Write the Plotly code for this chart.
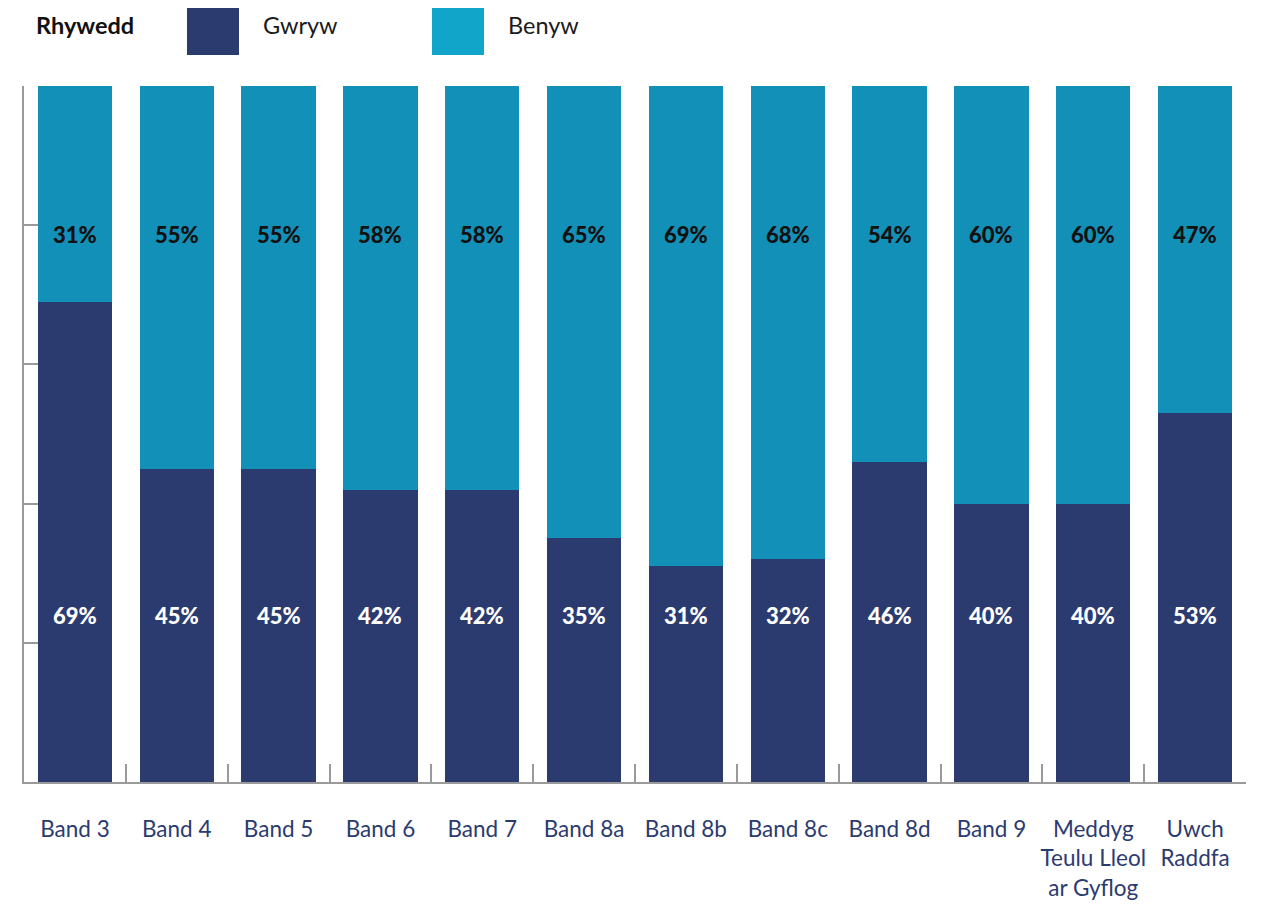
import plotly.graph_objects as go

categories = ["Band 3", "Band 4", "Band 5", "Band 6", "Band 7", "Band 8a", "Band 8b",
              "Band 8c", "Band 8d", "Band 9", "Meddyg<br>Teulu Lleol<br>ar Gyflog", "Uwch<br>Raddfa"]
gwryw = [69, 45, 45, 42, 42, 35, 31, 32, 46, 40, 40, 53]
benyw = [31, 55, 55, 58, 58, 65, 69, 68, 54, 60, 60, 47]
legend_title = "Rhywedd"
series_names = ["Gwryw", "Benyw"]

MALE = "#2C3B6F"
FEMALE = "#1390B8"
FEMALE_LEG = "#12A5CA"
FONT = "Lato"

fig = go.Figure()
fig.add_trace(go.Bar(x=categories, y=gwryw, name=series_names[0], marker_color=MALE,
                     marker_line_width=0, showlegend=False, hoverinfo="skip"))
fig.add_trace(go.Bar(x=categories, y=benyw, name=series_names[1], marker_color=FEMALE,
                     marker_line_width=0, showlegend=False, hoverinfo="skip"))

# data labels at fixed heights like the reference
for c, m, f in zip(categories, gwryw, benyw):
    fig.add_annotation(x=c, y=23.9, text=f"{m}%", showarrow=False,
                       font=dict(family=FONT, size=22, color="white", weight=900))
    fig.add_annotation(x=c, y=78.6, text=f"{f}%", showarrow=False,
                       font=dict(family=FONT, size=22, color="#111111", weight=900))

W, H = 1262, 909
OFF = 8  # page offset of the figure
L, R, T, B = 16, 24, 78, 135
pw, ph = W - L - R, H - T - B
def px(xp):
    return (xp - OFF - L) / pw
def py(yp):
    return (H - B - (yp - OFF)) / ph

# legend drawn manually
fig.add_annotation(xref="paper", yref="paper", x=px(34), y=py(25), xanchor="left", yanchor="middle",
                   text=legend_title, showarrow=False,
                   font=dict(family=FONT, size=23.5, color="#111111", weight=700))
sw = [(187, 239, MALE, series_names[0], 261), (432, 484, FEMALE_LEG, series_names[1], 506)]
for x0, x1, col, name, tx in sw:
    fig.add_shape(type="rect", xref="paper", yref="paper", x0=px(x0), x1=px(x1),
                  y0=py(55), y1=py(7), fillcolor=col, line_width=0)
    fig.add_annotation(xref="paper", yref="paper", x=px(tx), y=py(25), xanchor="left",
                       yanchor="middle", text=name, showarrow=False,
                       font=dict(family=FONT, size=23.5, color="#1a1a1a"))

fig.update_layout(
    width=W, height=H,
    margin=dict(l=L, r=R, t=T, b=B, autoexpand=False),
    barmode="stack", bargap=0.27,
    plot_bgcolor="white", paper_bgcolor="white",
    showlegend=False,
    font=dict(family=FONT),
)
fig.update_xaxes(
    showline=True, linecolor="#9a9a9a", linewidth=2,
    ticks="inside", tickson="boundaries", ticklen=18, tickcolor="#9a9a9a", tickwidth=2,
    tickfont=dict(family=FONT, size=22.5, color="#2C3B6F"), tickangle=0,
    ticklabelstandoff=26, layer="below traces", showgrid=False, automargin=False,
)
fig.update_yaxes(
    range=[0, 100], showline=True, linecolor="#9a9a9a", linewidth=2,
    ticks="inside", ticklen=31, tickcolor="#9a9a9a", tickwidth=2,
    tickvals=[0, 20, 40, 60, 80, 100], showticklabels=False, showgrid=False,
    layer="below traces", zeroline=False, automargin=False,
)

fig.write_html("out.html")
